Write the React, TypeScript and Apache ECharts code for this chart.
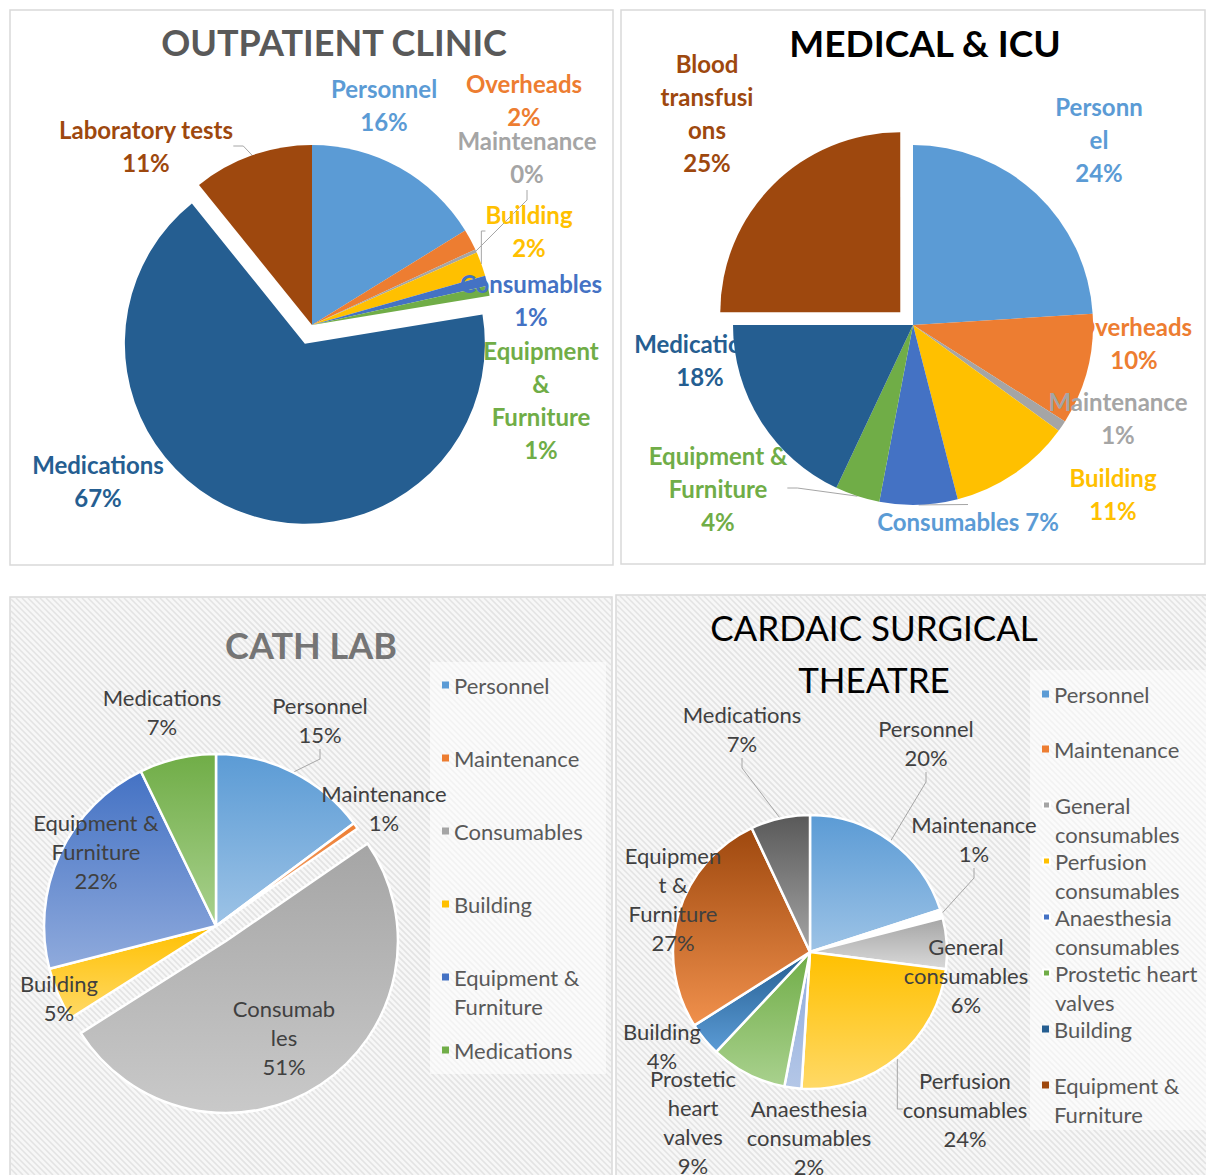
import React, { useEffect, useRef } from "react";
import * as echarts from "echarts";

const FONT = "Lato, 'Open Sans', sans-serif";

// ---------- DATA ----------
const OUT_NAMES = ["Personnel", "Overheads", "Maintenance", "Building", "Consumables", "Equipment & Furniture", "Medications", "Laboratory tests"];
const OUT_VALUES = [16.2, 1.9, 0.3, 2.2, 0.9, 0.9, 66.8, 10.8];

const MED_NAMES = ["Personnel", "Overheads", "Maintenance", "Building", "Consumables", "Equipment & Furniture", "Medications", "Blood transfusions"];
const MED_VALUES = [24, 10, 1, 11, 7, 4, 18, 25];

const CATH_NAMES = ["Personnel", "Maintenance", "Consumables", "Building", "Equipment & Furniture", "Medications"];
const CATH_VALUES = [14.8, 0.6, 50.6, 5.0, 21.8, 7.2];

const CARD_NAMES = ["Personnel", "Maintenance", "General consumables", "Perfusion consumables", "Anaesthesia consumables", "Prostetic heart valves", "Building", "Equipment & Furniture", "Medications"];
const CARD_VALUES = [20, 1, 6, 24, 2, 9, 4, 27, 7];

// ---------- LABEL TEXT (wrapping as in the reference) ----------
const OUT_LABELS = ["Personnel\n{p}", "Overheads\n{p}", "Maintenance\n{p}", "Building\n{p}", "Consumables\n{p}", "Equipment\n&\nFurniture\n{p}", "Medications\n{p}", "Laboratory tests\n{p}"];
const MED_LABELS = ["Personn\nel\n{p}", "Overheads\n{p}", "Maintenance\n{p}", "Building\n{p}", "Consumables {p}", "Equipment &\nFurniture\n{p}", "Medications\n{p}", "Blood\ntransfusi\nons\n{p}"];
const CATH_LABELS = ["Personnel\n{p}", "Maintenance\n{p}", "Consumab\nles\n{p}", "Building\n{p}", "Equipment &\nFurniture\n{p}", "Medications\n{p}"];
const CARD_LABELS = ["Personnel\n{p}", "Maintenance\n{p}", "General\nconsumables\n{p}", "Perfusion\nconsumables\n{p}", "Anaesthesia\nconsumables\n{p}", "Prostetic\nheart\nvalves\n{p}", "Building\n{p}", "Equipmen\nt &\nFurniture\n{p}", "Medications\n{p}"];

const LEGEND_WRAP: Record<string, string> = {
  "Equipment & Furniture": "Equipment &\nFurniture",
  "General consumables": "General\nconsumables",
  "Perfusion consumables": "Perfusion\nconsumables",
  "Anaesthesia consumables": "Anaesthesia\nconsumables",
  "Prostetic heart valves": "Prostetic heart\nvalves",
};

// ---------- STYLE / LAYOUT ----------
const OUT_COLORS = ["#5B9BD5", "#ED7D31", "#A5A5A5", "#FFC000", "#4472C4", "#70AD47", "#255E91", "#9E480E"];
const MED_COLORS = ["#5B9BD5", "#ED7D31", "#A5A5A5", "#FFC000", "#4472C4", "#70AD47", "#255E91", "#9E480E"];
const MED_LABEL_COLORS = ["#5B9BD5", "#ED7D31", "#A5A5A5", "#FFC000", "#5B9BD5", "#70AD47", "#255E91", "#9E480E"];
const CATH_GRAD = [["#5B9BD5", "#9DC3E6"], ["#ED7D31", "#F4B183"], ["#A5A5A5", "#C9C9C9"], ["#FFC000", "#FFD966"], ["#4472C4", "#8FAADC"], ["#70AD47", "#A9D18E"]];
const CATH_LEGEND_COLORS = ["#5B9BD5", "#ED7D31", "#A5A5A5", "#FFC000", "#4472C4", "#70AD47"];
const CARD_GRAD = [["#5B9BD5", "#9DC3E6"], ["#FFFFFF", "#FFFFFF"], ["#A5A5A5", "#D9D9D9"], ["#FFC000", "#FFD966"], ["#8FAADC", "#B4C7E7"], ["#70AD47", "#A9D18E"], ["#255E91", "#5B9BD5"], ["#9E480E", "#F0904C"], ["#595959", "#A5A5A5"]];
const CARD_LEGEND_COLORS = ["#5B9BD5", "#ED7D31", "#A5A5A5", "#FFC000", "#4472C4", "#70AD47", "#255E91", "#9E480E"];

const OUT_LABEL_POS = [[384, 105], [524, 100], [527, 157], [529, 231], [531, 300], [541, 400], [98, 481], [146, 146]];
const MED_LABEL_POS = [[1099, 139], [1134, 343], [1118, 418], [1113, 494], [968, 521], [718, 488], [700, 360], [707, 113]];
const CATH_LABEL_POS = [[320, 720], [384, 808], [284, 1037], [59, 998], [96, 851], [162, 712]];
const CARD_LABEL_POS = [[926, 743], [974, 839], [966, 975], [965, 1109], [809, 1137], [693, 1122], [662, 1046], [673, 899], [742, 729]];

const CATH_LEGEND_Y = [685, 758, 831, 904, 977, 1050];
const CARD_LEGEND_Y = [694, 749, 805, 861, 917, 973, 1029, 1085];

const CLEAR = "rgba(0,0,0,0)";

function hatchPath(rects: number[][], step: number) {
  let d = "";
  for (const [x1, y1, x2, y2] of rects) {
    for (let c = x1 - y2; c <= x2 - y1; c += step) {
      const ya = Math.max(y1, x1 - c);
      const yb = Math.min(y2, x2 - c);
      if (yb <= ya) continue;
      d += `M${(ya + c).toFixed(1)} ${ya.toFixed(1)}L${(yb + c).toFixed(1)} ${yb.toFixed(1)}`;
    }
  }
  return d;
}

let registered = false;
function ensureShapes() {
  if (registered) return;
  registered = true;
  const d = hatchPath([[11, 598, 611, 1175], [617, 596, 1206, 1175]], 6);
  echarts.graphic.registerShape("hatch", echarts.graphic.extendPath(d, {}) as any);
}

function grad(c: string[]) {
  return new echarts.graphic.LinearGradient(0, 0, 0, 1, [
    { offset: 0, color: c[0] },
    { offset: 1, color: c[1] },
  ]);
}

// Two overlaid pie series: the main pie, and the exploded slice drawn on a shifted centre.
function makePie(o: any) {
  const total = o.values.reduce((a: number, b: number) => a + b, 0);
  const e = o.explode;
  let center2 = o.center;
  if (e >= 0) {
    let cum = 0;
    for (let i = 0; i < e; i++) cum += o.values[i];
    const mid = ((cum + o.values[e] / 2) / total) * Math.PI * 2;
    center2 = [o.center[0] + o.offset * Math.sin(mid), o.center[1] - o.offset * Math.cos(mid)];
  }
  const base = (center: number[], visible: (i: number) => boolean) => ({
    type: "pie",
    center,
    radius: o.radius,
    startAngle: 90,
    clockwise: true,
    avoidLabelOverlap: false,
    silent: true,
    label: {
      show: true,
      position: "outside",
      fontFamily: FONT,
      fontSize: o.fontSize,
      fontWeight: o.bold ? "bold" : "normal",
      lineHeight: o.lineHeight,
      color: "#404040",
      formatter: (p: any) => o.labels[p.dataIndex].replace("{p}", Math.round((p.value / total) * 100) + "%"),
    },
    labelLine: { show: false, length: 10, length2: 10, lineStyle: { color: "#a6a6a6", width: 1 } },
    labelLayout: (p: any) => ({
      x: o.labelPos[p.dataIndex][0],
      y: o.labelPos[p.dataIndex][1],
      align: "center",
      verticalAlign: "middle",
    }),
    data: o.names.map((n: string, i: number) => {
      const vis = visible(i);
      const item: any = {
        name: n,
        value: o.values[i],
        itemStyle: vis
          ? { color: o.fills[i], borderColor: "#ffffff", borderWidth: o.border }
          : { color: CLEAR, borderWidth: 0 },
        label: vis ? { show: true } : { show: false },
        labelLine: { show: vis && o.lines.includes(i) },
      };
      if (vis && o.labelColors) item.label.color = o.labelColors[i];
      return item;
    }),
  });
  const out: any[] = [base(o.center, (i) => i !== e)];
  if (e >= 0) out.push(base(center2, (i) => i === e));
  return out;
}

// One legend per entry so each sits on its own row as in the reference.
// Two-line entries get an empty leading line so the marker lines up with the first text line.
function makeLegends(names: string[], colors: string[], ys: number[], left: number) {
  return names
    .filter((n, i) => i < ys.length)
    .map((n, i) => {
      const twoLine = !!LEGEND_WRAP[n];
      return {
        data: [{ name: n, itemStyle: { color: colors[i] } }],
        orient: "vertical",
        left,
        top: twoLine ? ys[i] - 43.5 : ys[i] - 14.5,
        padding: 0,
        icon: "rect",
        itemWidth: 7,
        itemHeight: 7,
        selectedMode: false,
        formatter: (name: string) => (LEGEND_WRAP[name] ? " \n" + LEGEND_WRAP[name] : name),
        textStyle: { fontFamily: FONT, fontSize: 22, color: "#595959", lineHeight: 29 },
      };
    });
}

export default function App() {
  const ref = useRef<HTMLDivElement>(null);
  useEffect(() => {
    document.body.style.margin = "0";
    ensureShapes();
    const chart = echarts.init(ref.current!, undefined, { renderer: "svg" });
    const titleStyle = (text: string, x: number, y: number, color: string, bold: boolean, size: number) => ({
      type: "text",
      x,
      y,
      z: 10,
      style: {
        text,
        align: "center",
        verticalAlign: "middle",
        fill: color,
        font: `${bold ? "bold " : ""}${size}px ${FONT}`,
        lineHeight: 52,
      },
    });
    const cardLegendNames = CARD_NAMES.filter((n) => n !== "Medications");
    chart.setOption({
      animation: false,
      backgroundColor: "#ffffff",
      graphic: [
        { type: "rect", shape: { x: 10, y: 10, width: 603, height: 555 }, style: { fill: "#ffffff", stroke: "#d9d9d9", lineWidth: 1.5 } },
        { type: "rect", shape: { x: 621, y: 10, width: 584, height: 554 }, style: { fill: "#ffffff", stroke: "#d9d9d9", lineWidth: 1.5 } },
        { type: "rect", shape: { x: 10, y: 597, width: 602, height: 600 }, style: { fill: "#f7f7f7", stroke: "#d9d9d9", lineWidth: 1.5 } },
        { type: "rect", shape: { x: 616, y: 595, width: 600, height: 600 }, style: { fill: "#f7f7f7", stroke: "#d9d9d9", lineWidth: 1.5 } },
        { type: "hatch", x: 0, y: 0, style: { stroke: "#e3e3e3", lineWidth: 1.6, fill: "none" } },
        { type: "rect", shape: { x: 430, y: 662, width: 176, height: 412 }, style: { fill: "rgba(255,255,255,0.55)" } },
        { type: "rect", shape: { x: 1030, y: 670, width: 176, height: 460 }, style: { fill: "rgba(255,255,255,0.55)" } },
        titleStyle("OUTPATIENT CLINIC", 334, 42, "#595959", true, 36),
        titleStyle("MEDICAL & ICU", 925, 42, "#000000", true, 37),
        titleStyle("CATH LAB", 311, 645, "#757575", true, 36),
        titleStyle("CARDAIC SURGICAL\nTHEATRE", 874, 653, "#000000", false, 35),
      ],
      legend: [
        ...makeLegends(CATH_NAMES, CATH_LEGEND_COLORS, CATH_LEGEND_Y, 442),
        ...makeLegends(cardLegendNames, CARD_LEGEND_COLORS, CARD_LEGEND_Y, 1042),
      ],
      series: [
        ...makePie({
          names: OUT_NAMES, values: OUT_VALUES, fills: OUT_COLORS, labels: OUT_LABELS, labelPos: OUT_LABEL_POS,
          labelColors: OUT_COLORS, lines: [2, 3, 7], explode: 6, center: [312, 325], radius: 180, offset: 20,
          border: 0, bold: true, fontSize: 24, lineHeight: 33,
        }),
        ...makePie({
          names: MED_NAMES, values: MED_VALUES, fills: MED_COLORS, labels: MED_LABELS, labelPos: MED_LABEL_POS,
          labelColors: MED_LABEL_COLORS, lines: [4, 5], explode: 7, center: [913, 325], radius: 180, offset: 18,
          border: 0, bold: true, fontSize: 24, lineHeight: 33,
        }),
        ...makePie({
          names: CATH_NAMES, values: CATH_VALUES, fills: CATH_GRAD.map(grad), labels: CATH_LABELS, labelPos: CATH_LABEL_POS,
          lines: [0], explode: 2, center: [216, 926], radius: 172, offset: 18,
          border: 2.5, bold: false, fontSize: 22, lineHeight: 29,
        }),
        ...makePie({
          names: CARD_NAMES, values: CARD_VALUES, fills: CARD_GRAD.map(grad), labels: CARD_LABELS, labelPos: CARD_LABEL_POS,
          lines: [0, 1, 3, 8], explode: -1, center: [810, 952], radius: 137, offset: 0,
          border: 2.5, bold: false, fontSize: 22, lineHeight: 29,
        }),
      ],
    });
    return () => chart.dispose();
  }, []);
  return <div ref={ref} style={{ width: 1206, height: 1175 }} />;
}
